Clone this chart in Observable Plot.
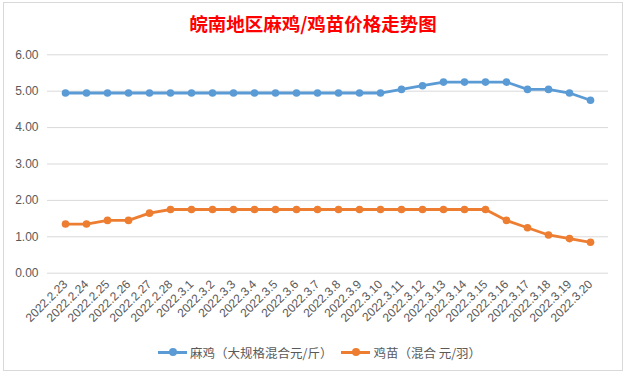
<!DOCTYPE html>
<html>
<head>
<meta charset="utf-8">
<script src="https://cdn.jsdelivr.net/npm/d3@7"></script>
<script src="https://cdn.jsdelivr.net/npm/@observablehq/plot@0.6"></script>
<style>
  html, body { margin: 0; padding: 0; background: #ffffff; }
  #page { position: relative; width: 626px; height: 374px; overflow: hidden; background: #fff; }
  #box { position: absolute; left: 3px; top: 2px; width: 620px; height: 369px; border: 1px solid #d9d9d9; box-sizing: border-box; }
  #title { position: absolute; left: 0; top: 11px; width: 626px; text-align: center; line-height: 24px;
           font-family: "Noto Sans CJK SC", sans-serif; font-weight: bold; font-size: 18.5px; color: #ff0000; }
  #chart { position: absolute; left: 0; top: 40px; }
  #legend { position: absolute; left: 158px; top: 343px; height: 18px; display: flex; align-items: center;
            font-family: "Noto Sans CJK SC", sans-serif; font-size: 12.5px; color: #595959; white-space: nowrap; }
  .item { display: flex; align-items: center; margin-right: 9px; }
  .sw { position: relative; width: 29px; height: 18px; margin-right: 3px; }
  .sw .ln { position: absolute; left: 0; top: 7.5px; width: 29px; height: 3px; }
  .sw .dt { position: absolute; left: 10.5px; top: 5px; width: 8px; height: 8px; border-radius: 50%; }
</style>
</head>
<body>
<div id="page">
  <div id="box"></div>
  <div id="title">皖南地区麻鸡/鸡苗价格走势图</div>
  <div id="chart"></div>
  <div id="legend"></div>
</div>
<script>
const dates = ["2022.2.23","2022.2.24","2022.2.25","2022.2.26","2022.2.27","2022.2.28",
  "2022.3.1","2022.3.2","2022.3.3","2022.3.4","2022.3.5","2022.3.6","2022.3.7","2022.3.8",
  "2022.3.9","2022.3.10","2022.3.11","2022.3.12","2022.3.13","2022.3.14","2022.3.15",
  "2022.3.16","2022.3.17","2022.3.18","2022.3.19","2022.3.20"];
const majiPrice = [4.95,4.95,4.95,4.95,4.95,4.95,4.95,4.95,4.95,4.95,4.95,4.95,4.95,4.95,4.95,4.95,
  5.05,5.15,5.25,5.25,5.25,5.25,5.05,5.05,4.95,4.75];
const jimiaoPrice = [1.35,1.35,1.45,1.45,1.65,1.75,1.75,1.75,1.75,1.75,1.75,1.75,1.75,1.75,1.75,1.75,
  1.75,1.75,1.75,1.75,1.75,1.45,1.25,1.05,0.95,0.85];
const seriesNames = ["麻鸡（大规格混合元/斤）", "鸡苗（混合 元/羽）"];
const seriesColors = ["#5b9bd5", "#ed7d31"];
const yTicks = [0, 1, 2, 3, 4, 5, 6];

const data = [];
dates.forEach((d, i) => data.push({date: d, value: majiPrice[i], series: seriesNames[0]}));
dates.forEach((d, i) => data.push({date: d, value: jimiaoPrice[i], series: seriesNames[1]}));

const chart = Plot.plot({
  width: 626,
  height: 300,
  marginLeft: 47,
  marginRight: 18,
  marginTop: 14.3,
  marginBottom: 67.3,
  style: {fontFamily: "'Liberation Sans', Arial, sans-serif", fontSize: "12px", color: "#595959", background: "transparent", overflow: "visible"},
  x: {type: "point", domain: dates, range: [57.8, 597.2], padding: 0, label: null},
  y: {domain: [0, 6], label: null},
  color: {domain: seriesNames, range: seriesColors},
  marks: [
    Plot.gridY(yTicks, {stroke: "#d9d9d9", strokeOpacity: 1, strokeWidth: 1}),
    Plot.axisY(yTicks, {tickFormat: d => d.toFixed(2), tickSize: 0, tickPadding: 9, label: null, fill: "#595959"}),
    Plot.axisX({tickRotate: -45, tickSize: 0, tickPadding: 9, label: null, fill: "#595959"}),
    Plot.line(data, {x: "date", y: "value", z: "series", stroke: "series", strokeWidth: 2.8}),
    Plot.dot(data, {x: "date", y: "value", fill: "series", r: 3.8, stroke: "none"})
  ]
});
document.getElementById("chart").appendChild(chart);

const legend = document.getElementById("legend");
seriesNames.forEach((name, i) => {
  const item = document.createElement("div");
  item.className = "item";
  item.innerHTML = `<span class="sw"><span class="ln" style="background:${seriesColors[i]}"></span><span class="dt" style="background:${seriesColors[i]}"></span></span><span>${name}</span>`;
  legend.appendChild(item);
});
</script>
</body>
</html>
